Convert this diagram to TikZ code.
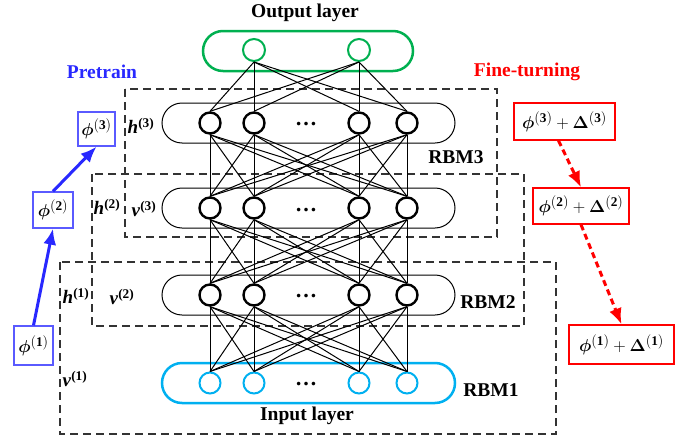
\documentclass[tikz,border=0pt]{standalone}
\usepackage{amsmath}
\usepackage{fontspec}
\setmainfont{Liberation Serif}
\usetikzlibrary{arrows.meta}
\definecolor{outgreen}{RGB}{0,176,80}
\definecolor{incyan}{RGB}{0,176,240}
\definecolor{ptblue}{RGB}{40,40,255}
\definecolor{boxblue}{RGB}{90,90,255}
\definecolor{ftred}{RGB}{255,0,0}
\newcommand{\blab}[2]{\textbf{\textit{#1}}\textsuperscript{\textbf{(#2)}}}
\newcommand{\phiof}[1]{$\boldsymbol{\phi}^{(\mathbf{#1})}$}
\newcommand{\phidel}[1]{$\boldsymbol{\phi}^{(\mathbf{#1})}+\boldsymbol{\Delta}^{(\mathbf{#1})}$}
\tikzset{
  unit/.style={circle, draw=black, line width=2.4pt, fill=white, minimum size=21pt, inner sep=0pt},
  inunit/.style={circle, draw=incyan, line width=2pt, fill=white, minimum size=21pt, inner sep=0pt},
  outunit/.style={circle, draw=outgreen, line width=2pt, fill=white, minimum size=22pt, inner sep=0pt},
  band/.style={draw=black, line width=1pt, rounded corners=20pt},
  link/.style={draw=black, line width=1pt},
  rbmbox/.style={draw=black!80, line width=1.3pt, dash pattern=on 8pt off 5pt},
  title/.style={font=\fontsize{19.5}{22}\selectfont\bfseries, inner sep=0pt},
  lab/.style={font=\fontsize{19}{21}\selectfont, inner sep=0pt},
  dots/.style={font=\fontsize{22}{24}\selectfont\bfseries, inner sep=0pt, anchor=base},
  pbox/.style={draw=boxblue, line width=1.3pt, inner sep=0pt, font=\fontsize{19}{21}\selectfont},
  fbox/.style={draw=ftred, line width=1.3pt, inner sep=0pt, font=\fontsize{19}{21}\selectfont},
  parrow/.style={draw=ptblue, line width=3pt, -{Latex[length=16pt,width=13pt]}},
  farrow/.style={draw=ftred, line width=3pt, dash pattern=on 6pt off 4pt, -{Latex[length=16pt,width=13pt]}},
}
\begin{document}
\begin{tikzpicture}[x=1pt,y=-1pt]
\useasboundingbox (0,0) rectangle (694,442);

% bands
\draw[band, draw=outgreen, line width=2.5pt] (203,31) rectangle (413,71);
\draw[band] (162,103) rectangle (455,143);
\draw[band] (162,188) rectangle (455,228);
\draw[band] (162,275) rectangle (455,315);
\draw[band, draw=incyan, line width=2.5pt] (162,363) rectangle (455,403);

% dashed RBM boxes
\draw[rbmbox] (125,89) rectangle (497,237);
\draw[rbmbox] (92,174) rectangle (524,326);
\draw[rbmbox] (60,262) rectangle (556,434);

% nodes
\node[outunit] (o1) at (254,50) {};
\node[outunit] (o2) at (359,50) {};
\foreach \i/\x in {1/210,2/254,3/359,4/407}{
  \node[unit] (a\i) at (\x,123) {};
  \node[unit] (b\i) at (\x,208) {};
  \node[unit] (c\i) at (\x,295) {};
  \node[inunit] (d\i) at (\x,383) {};
}
\node[dots] (dt1) at (306,125) {…};
\node[dots] (dt2) at (306,211) {…};
\node[dots] (dt3) at (306,297) {…};
\node[dots] (dt4) at (306,385) {…};

% links
\foreach \j in {1,2,3,4}{
  \draw[link] (o1.south) -- (a\j.north);
  \draw[link] (o2.south) -- (a\j.north);
  \foreach \i in {1,2,3,4}{
    \draw[link] (a\i.south) -- (b\j.north);
    \draw[link] (b\i.south) -- (c\j.north);
    \draw[link] (c\i.south) -- (d\j.north);
  }
}

% titles
\node[title] (outt) at (305,13) {Output layer};
\node[title] (int) at (307,416) {Input layer};
\node[title] (r3) at (456,157) {RBM3};
\node[title] (r2) at (488,302) {RBM2};
\node[title] (r1) at (491,390) {RBM1};
\node[title, text=ptblue] (pt) at (102,72) {Pretrain};
\node[title, text=ftred] (ft) at (527,72) {Fine-turning};

% layer labels
\node[lab] (h3) at (141,126) {\blab{h}{3}};
\node[lab] (h2) at (107,207) {\blab{h}{2}};
\node[lab] (v3) at (144,209) {\blab{v}{3}};
\node[lab] (h1) at (76,296) {\blab{h}{1}};
\node[lab] (v2) at (122,297) {\blab{v}{2}};
\node[lab] (v1) at (75,379) {\blab{v}{1}};

% pretrain boxes
\node[pbox, minimum width=37pt, minimum height=34pt] (p3) at (96.5,129) {\phiof{3}};
\node[pbox, minimum width=40pt, minimum height=36pt] (p2) at (53,210) {\phiof{2}};
\node[pbox, minimum width=39pt, minimum height=39pt] (p1) at (33.5,345.5) {\phiof{1}};
\draw[parrow] (p1.north) -- (p2.south);
\draw[parrow] (p2.north) -- (p3.south);

% fine-tuning boxes
\node[fbox, minimum width=101pt, minimum height=37pt] (f3) at (564.5,121.5) {\phidel{3}};
\node[fbox, minimum width=96pt, minimum height=36pt] (f2) at (581,206) {\phidel{2}};
\node[fbox, minimum width=105pt, minimum height=39pt] (f1) at (621.5,344.5) {\phidel{1}};
\draw[farrow] ([xshift=-6pt]f3.south) -- (f2.north);
\draw[farrow] (f2.south) -- (f1.north);
\end{tikzpicture}
\end{document}
